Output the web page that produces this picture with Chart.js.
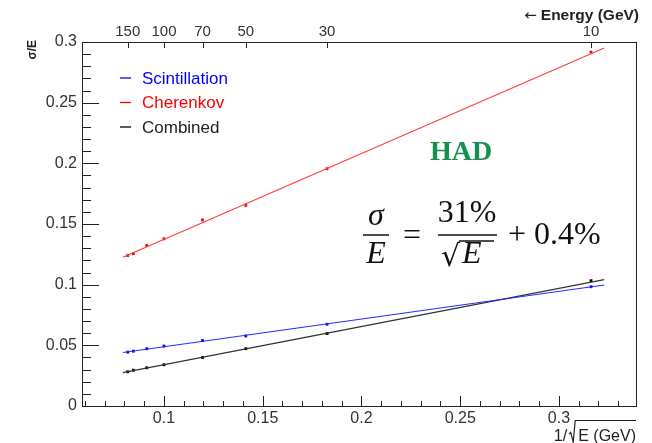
<!DOCTYPE html>
<html>
<head>
<meta charset="utf-8">
<script src="https://cdn.jsdelivr.net/npm/chart.js@4/dist/chart.umd.min.js"></script>
<style>
  body { margin: 0; background: #fff; }
  #wrap { width: 652px; height: 443px; }
</style>
</head>
<body>
<div id="wrap"><canvas id="myChart" width="652" height="443"></canvas></div>
<script>
// values
const energies = [150, 140, 120, 100, 70, 50, 30, 10];
const scintValues = [0.0444, 0.0452, 0.0472, 0.0494, 0.0539, 0.0577, 0.0674, 0.0983];
const cherenkovValues = [0.124, 0.1256, 0.1323, 0.1378, 0.1533, 0.1654, 0.1956, 0.2917];
const combinedValues = [0.0282, 0.0295, 0.0315, 0.034, 0.040, 0.0472, 0.0597, 0.1033];

// fitted lines, end points
const fitRange = [0.0792, 0.3229];
const scintFit = [0.0441, 0.0997];
const cherenkovFit = [0.1226, 0.295];
const combinedFit = [0.0275, 0.1041];

const xTicks = [0.1, 0.15, 0.2, 0.25, 0.3];
const yTicks = [0, 0.05, 0.1, 0.15, 0.2, 0.25, 0.3];
const energyTicks = [150, 100, 70, 50, 30, 10];

const seriesNames = ['Scintillation', 'Cherenkov', 'Combined'];
const lineColors = ['#2b2bff', '#ff4040', '#333333'];
const pointColors = ['#0000ff', '#ff0000', '#000000'];

function pts(vals){
    return energies.map((e, i) => ({x: 1 / Math.sqrt(e), y: vals[i]}));
}
function fit(vals){
    return fitRange.map((x, i) => ({x: x, y: vals[i]}));
}

const fits = [scintFit, cherenkovFit, combinedFit];
const values = [scintValues, cherenkovValues, combinedValues];
var datasets = [];
for (var i = 0; i < 3; i++){
    datasets.push({
        label: seriesNames[i] + ' fit',
        data: fit(fits[i]),
        showLine: true,
        borderColor: lineColors[i],
        borderWidth: 1.2,
        pointRadius: 0
    });
    datasets.push({
        label: seriesNames[i],
        data: pts(values[i]),
        showLine: false,
        pointStyle: 'rect',
        pointRadius: 2,
        backgroundColor: pointColors[i],
        borderColor: pointColors[i],
        borderWidth: 0
    });
}

const tickFont = {family: 'Liberation Sans, Arial, sans-serif', size: 16};

const framePlugin = {
    id: 'frame',
    afterDatasetsDraw(chart){
        const ctx = chart.ctx;
        const a = chart.chartArea;
        const xs = chart.scales.x, ys = chart.scales.y, xt = chart.scales.xTop;
        ctx.save();
        ctx.strokeStyle = '#222';
        ctx.lineWidth = 1;
        ctx.strokeRect(a.left + 0.5, a.top + 0.5, a.right - a.left, a.bottom - a.top);
        ctx.beginPath();
        // y ticks
        for (var k = 0; k <= 30; k++){
            var v = k / 100;
            var py = Math.round(ys.getPixelForValue(v)) + 0.5;
            var len = (k % 5 == 0) ? 17 : 9;
            ctx.moveTo(a.left, py); ctx.lineTo(a.left + len, py);
        }
        // x ticks
        for (var k = 6; k <= 33; k++){
            var v = k / 100;
            var px = Math.round(xs.getPixelForValue(v)) + 0.5;
            var len = (k % 5 == 0) ? 10 : 5;
            ctx.moveTo(px, a.bottom); ctx.lineTo(px, a.bottom - len);
        }
        // top energy ticks
        energyTicks.forEach(e => {
            var px = Math.round(xt.getPixelForValue(1 / Math.sqrt(e))) + 0.5;
            ctx.moveTo(px, a.top); ctx.lineTo(px, a.top + 6);
        });
        ctx.stroke();

        // legend
        ctx.font = '17px Liberation Sans, Arial, sans-serif';
        ctx.textBaseline = 'middle';
        ctx.textAlign = 'left';
        for (var i = 0; i < 3; i++){
            var ly = 78 + i * 24.5;
            ctx.strokeStyle = pointColors[i];
            ctx.lineWidth = 1.3;
            ctx.beginPath(); ctx.moveTo(120, ly); ctx.lineTo(131, ly); ctx.stroke();
            ctx.fillStyle = pointColors[i] == '#000000' ? '#222' : pointColors[i];
            ctx.fillText(seriesNames[i], 142, ly + 1);
        }

        // axis titles
        ctx.fillStyle = '#222';
        ctx.strokeStyle = '#222';
        ctx.save();
        ctx.translate(36, 40);
        ctx.rotate(-Math.PI / 2);
        ctx.font = 'bold 12px Liberation Sans, Arial, sans-serif';
        ctx.textAlign = 'right';
        ctx.textBaseline = 'alphabetic';
        ctx.fillText('σ/E', 0, 0);
        ctx.restore();

        ctx.textBaseline = 'alphabetic';
        ctx.textAlign = 'right';
        ctx.font = 'bold 15.5px Liberation Sans, Arial, sans-serif';
        ctx.fillText('Energy (GeV)', 639, 20);
        var w = ctx.measureText('Energy (GeV)').width;
        ctx.font = '15px DejaVu Sans, sans-serif';
        ctx.fillText('←', 639 - w - 4, 20);

        // 1/ sqrt(E) (GeV)
        ctx.font = '16px Liberation Sans, Arial, sans-serif';
        ctx.fillText('E (GeV)', 636, 441);
        var w2 = ctx.measureText('E (GeV)').width;
        var sx = 636 - w2 - 3;
        ctx.fillText('1/', sx - 8, 441);
        ctx.lineWidth = 1.2;
        ctx.beginPath();
        ctx.moveTo(sx - 6, 434); ctx.lineTo(sx - 4.5, 432.5);
        ctx.lineTo(sx - 2, 442); ctx.lineTo(sx, 420.5); ctx.lineTo(636, 420.5);
        ctx.stroke();

        // HAD label
        ctx.fillStyle = '#13904c';
        ctx.font = 'bold 28px Liberation Serif, Times New Roman, serif';
        ctx.textAlign = 'center';
        ctx.fillText('HAD', 461, 160);

        // formula
        ctx.fillStyle = '#111';
        ctx.strokeStyle = '#111';
        ctx.lineWidth = 1.5;
        ctx.font = 'italic 32px Liberation Serif, Times New Roman, serif';
        ctx.fillText('σ', 376, 225);
        ctx.fillText('E', 376, 263);
        ctx.beginPath(); ctx.moveTo(363, 235); ctx.lineTo(389, 235); ctx.stroke();
        ctx.font = '32px Liberation Serif, Times New Roman, serif';
        ctx.fillText('=', 412, 245);
        ctx.fillText('31%', 467, 222);
        ctx.beginPath(); ctx.moveTo(438, 235); ctx.lineTo(497, 235); ctx.stroke();
        ctx.font = '30px DejaVu Serif, serif';
        ctx.textAlign = 'left';
        ctx.fillText('√', 441, 266);
        ctx.font = 'italic 32px Liberation Serif, Times New Roman, serif';
        ctx.fillText('E', 462, 263);
        ctx.lineWidth = 1.3;
        ctx.beginPath(); ctx.moveTo(459, 241); ctx.lineTo(494, 241); ctx.stroke();
        ctx.font = '32px Liberation Serif, Times New Roman, serif';
        ctx.fillText('+ 0.4%', 508, 244);
        ctx.restore();
    }
};

const ctx = document.getElementById('myChart').getContext('2d');
const myChart = new Chart(ctx, {
    type: 'scatter',
    data: { datasets: datasets },
    options: {
        responsive: false,
        animation: false,
        layout: { padding: { left: 0, right: 16, top: 0, bottom: 0 } },
        plugins: { legend: { display: false }, tooltip: { enabled: false } },
        scales: {
            x: {
                type: 'linear', position: 'bottom',
                min: 0.0585, max: 0.339,
                afterBuildTicks: s => { s.ticks = xTicks.map(v => ({value: v})); },
                afterFit: s => { s.height = 37; },
                grid: { display: false, drawTicks: false },
                border: { display: false },
                ticks: { font: tickFont, color: '#333', padding: 3, maxRotation: 0,
                    callback: v => String(v) }
            },
            xTop: {
                type: 'linear', position: 'top',
                min: 0.0585, max: 0.339,
                afterBuildTicks: s => { s.ticks = energyTicks.map(e => ({value: 1 / Math.sqrt(e)})); },
                afterFit: s => { s.height = 42; },
                grid: { display: false, drawTicks: false },
                border: { display: false },
                ticks: { font: {family: tickFont.family, size: 15}, color: '#333', padding: 1, maxRotation: 0, autoSkip: false,
                    callback: v => String(Math.round(1 / (v * v))) }
            },
            y: {
                type: 'linear', position: 'left',
                min: 0, max: 0.3,
                afterBuildTicks: s => { s.ticks = yTicks.map(v => ({value: v})); },
                afterFit: s => { s.width = 82; },
                grid: { display: false, drawTicks: false },
                border: { display: false },
                ticks: { font: tickFont, color: '#333', padding: 5,
                    callback: v => String(v) }
            }
        }
    },
    plugins: [framePlugin]
});
</script>
</body>
</html>
